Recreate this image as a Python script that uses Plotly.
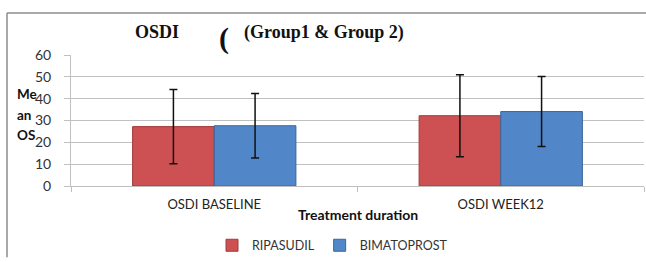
import plotly.graph_objects as go

categories = ["OSDI BASELINE", "OSDI WEEK12"]
ripasudil_mean = [27.2, 32.2]
ripasudil_sd = [17.0, 18.8]
bimatoprost_mean = [27.6, 34.1]
bimatoprost_sd = [14.8, 16.0]
y_ticks = [0, 10, 20, 30, 40, 50, 60]

W, H = 646, 262
L, R, T, B = 71, 2, 55, 73
pw, ph = W - L - R, H - T - B

def px(x):
    return (x - L) / pw

def py(y):
    return (H - B - y) / ph

fig = go.Figure()
fig.add_trace(go.Bar(
    name="RIPASUDIL", x=categories, y=ripasudil_mean,
    marker=dict(color="#CD5052", line=dict(color="#A33B3A", width=1)),
    error_y=dict(type="data", array=ripasudil_sd, color="#111111", thickness=1.5, width=4),
))
fig.add_trace(go.Bar(
    name="BIMATOPROST", x=categories, y=bimatoprost_mean,
    marker=dict(color="#5187C8", line=dict(color="#3A6699", width=1)),
    error_y=dict(type="data", array=bimatoprost_sd, color="#111111", thickness=1.5, width=4),
))

fig.update_layout(
    width=W, height=H,
    margin=dict(l=L, r=R, t=T, b=B),
    paper_bgcolor="white", plot_bgcolor="white",
    barmode="group", bargap=0.43, bargroupgap=0,
    font=dict(family="Lato, Open Sans, sans-serif", size=13, color="#333333"),
    showlegend=True,
    legend=dict(orientation="h", x=px(212), xanchor="left", y=py(250), yanchor="middle",
                font=dict(size=12.5, color="#333333"), itemwidth=30, traceorder="normal"),
    xaxis=dict(showgrid=False, showline=True, linecolor="#BFBFBF", ticks="outside",
               tickson="boundaries", ticklen=5, tickcolor="#BFBFBF", ticklabelstandoff=6,
               tickfont=dict(size=13, color="#222222")),
    yaxis=dict(range=[0, 60], tickvals=y_ticks, showgrid=True, gridcolor="#C0C0C0",
               gridwidth=1, showline=True, linecolor="#C0C0C0", ticks="outside",
               ticklen=6, tickcolor="#C0C0C0", zeroline=False, ticklabelstandoff=10,
               tickfont=dict(size=14, color="#333333")),
)

def note(text, x, y, size, family, xanchor="center"):
    fig.add_annotation(text=text, xref="paper", yref="paper", x=px(x), y=py(y),
                       xanchor=xanchor, yanchor="middle", showarrow=False,
                       font=dict(family=family, size=size, color="#111111"))

serif = "Liberation Serif, serif"
sans = "Lato, sans-serif"
# title pieces
note("<b>OSDI</b>", 133, 31, 18, serif, "left")
note("<b>(</b>", 224, 38, 30, serif)
note("<b>(Group1 &amp; Group 2)</b>", 242, 32, 18, serif, "left")
# y axis title, three lines
for txt, yy in [("Me", 95), ("an", 116.5), ("OS", 137)]:
    note("<b>" + txt + "</b>", 15, yy, 13.5, sans, "left")
# x axis title
note("<b>Treatment duration</b>", 358, 218, 14, sans)

# frame
fig.add_shape(type="line", xref="paper", yref="paper", x0=px(7), x1=px(7), y0=py(12), y1=py(262),
              line=dict(color="#8C8C8C", width=1.5))
fig.add_shape(type="line", xref="paper", yref="paper", x0=px(7), x1=px(646), y0=py(12), y1=py(12),
              line=dict(color="#8C8C8C", width=1.5))

fig.write_html("out.html", config={"displayModeBar": False},
               post_script="document.body.style.margin='0';")
